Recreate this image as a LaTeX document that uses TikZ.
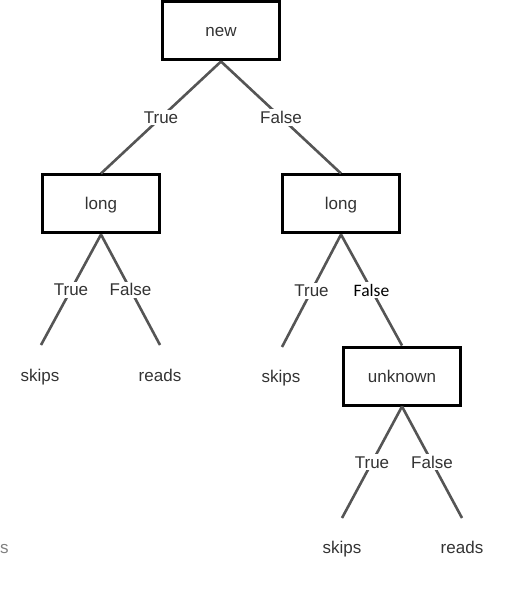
\documentclass[tikz,border=0pt]{standalone}
\usepackage{fontspec}
\setmainfont{Liberation Sans}
\newfontfamily\calib{Carlito}
\definecolor{edgegray}{HTML}{555555}
\definecolor{txtgray}{HTML}{333333}
\tikzset{
  attr/.style={draw=black,line width=3pt,minimum width=117pt,minimum height=58pt,
    text height=14pt,text depth=2pt,text=txtgray,font=\fontsize{17}{20}\selectfont},
  lbl/.style={fill=white,inner sep=2pt,text=txtgray,font=\fontsize{17}{20}\selectfont},
  leaf/.style={inner sep=0pt,anchor=base,text=txtgray,font=\fontsize{17}{20}\selectfont},
  branch/.style={edgegray,line width=2.6pt}
}
\begin{document}
	\begin{tikzpicture}[x=1pt,y=-1pt]
		\useasboundingbox (0,0) rectangle (504,601);
		% decision boxes
		\node[attr] (new) at (221,31) {new};
		\node[attr] (longL) at (101,204) {long};
		\node[attr] (longR) at (341,204) {long};
		\node[attr] (unk) at (402,376) {unknown};
		% free ends of the leaf branches
		\coordinate (eLT) at (41,345);
		\coordinate (eLF) at (160,345);
		\coordinate (eRT) at (282,347);
		\coordinate (eUT) at (342,518);
		\coordinate (eUF) at (462,518);
		% branches
		\draw[branch] (new.south) -- node[lbl] (tA) {True} (longL.north);
		\draw[branch] (new.south) -- node[lbl] (fA) {False} (longR.north);
		\draw[branch] (longL.south) -- node[lbl] (tB) {True} (eLT);
		\draw[branch] (longL.south) -- node[lbl] (fB) {False} (eLF);
		\draw[branch] (longR.south) -- node[lbl] (tC) {True} (eRT);
		\draw[branch] (longR.south) -- node[lbl,font=\calib\fontsize{17.5}{20}\selectfont,text=black] (fC) {False} (unk.north);
		\draw[branch] (unk.south) -- node[lbl] (tD) {True} (eUT);
		\draw[branch] (unk.south) -- node[lbl] (fD) {False} (eUF);
		% leaves
		\node[leaf] (skipsL) at (40,381) {skips};
		\node[leaf] (readsL) at (160,381) {reads};
		\node[leaf] (skipsR) at (281,382) {skips};
		\node[leaf] (skipsU) at (342,553) {skips};
		\node[leaf] (readsU) at (462,553) {reads};
		\node[leaf,anchor=base west,text=gray] (cut) at (0,553) {s};
	\end{tikzpicture}
\end{document}
